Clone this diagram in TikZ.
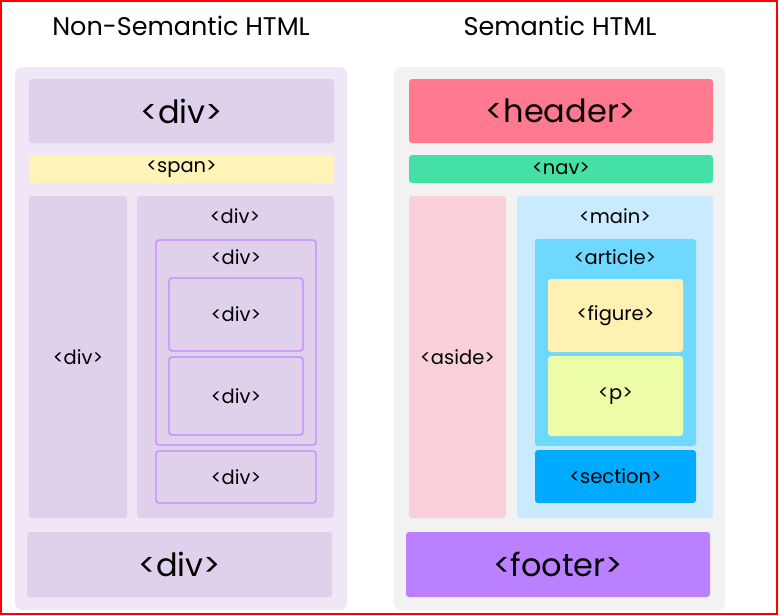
\documentclass[tikz,border=0pt]{standalone}
\usepackage{fontspec}
\setmainfont{Poppins}
\definecolor{leftpanel}{HTML}{EFE7F6}
\definecolor{divfill}{HTML}{DFD0EC}
\definecolor{spanfill}{HTML}{FFF3B8}
\definecolor{rightpanel}{HTML}{F2F2F2}
\definecolor{headerfill}{HTML}{FF7A8E}
\definecolor{navfill}{HTML}{45E0A6}
\definecolor{asidefill}{HTML}{FAD0D8}
\definecolor{mainfill}{HTML}{C9EBFD}
\definecolor{articlefill}{HTML}{6FD8FF}
\definecolor{figurefill}{HTML}{FFF0B3}
\definecolor{pfill}{HTML}{EDFCA6}
\definecolor{sectionfill}{HTML}{00AAFF}
\definecolor{footerfill}{HTML}{BB80FF}
\definecolor{divline}{HTML}{BF8BFF}
\definecolor{frame}{HTML}{FF0000}
\begin{document}
\begin{tikzpicture}[x=1pt,y=-1pt,
  tag/.style={rectangle, rounded corners=3pt, inner sep=0pt, outer sep=0pt, text=black},
  panel/.style={tag, rounded corners=7pt},
  outlined/.style={draw=divline, line width=1.3pt},
  bigtext/.style={font=\fontsize{32}{34}\selectfont},
  smalltext/.style={font=\fontsize{19.5}{21}\selectfont},
  title/.style={font=\fontsize{25.5}{28}\selectfont, inner sep=0pt}]
\useasboundingbox (0,0) rectangle (780,616);
\fill[white] (0,0) rectangle (780,616);
% name, x1, y1, x2, y2, style, text
\newcommand\tagbox[7]{%
  \pgfmathsetmacro\tbw{#4-#2}%
  \pgfmathsetmacro\tbh{#5-#3}%
  \pgfmathsetmacro\tbx{(#2+#4)/2}%
  \pgfmathsetmacro\tby{(#3+#5)/2}%
  \node[tag, #6, minimum width=\tbw pt, minimum height=\tbh pt] (#1) at (\tbx,\tby) {#7};}

% titles
\node[title] (ltitle) at (181,26) {Non-Semantic HTML};
\node[title] (rtitle) at (560,26) {Semantic HTML};

% ---- non-semantic side ----
\tagbox{lpanel}{15}{67}{347}{610}{panel, fill=leftpanel}{}
\tagbox{ldivtop}{29}{79}{334}{143}{fill=divfill, bigtext}{<div>}
\tagbox{lspan}{29}{155}{334}{183}{fill=spanfill, smalltext}{<span>}
\tagbox{lside}{29}{196}{127}{518}{fill=divfill, smalltext}{<div>}
\tagbox{lwrap}{137}{196}{334}{518}{fill=divfill}{}
\node[smalltext] (lwraplabel) at (235,216) {<div>};
\tagbox{lnest}{156}{240}{316}{445}{outlined}{}
\node[smalltext] (lnestlabel) at (236,257) {<div>};
\tagbox{linnerA}{169}{278}{303}{351}{outlined, smalltext}{<div>}
\tagbox{linnerB}{169}{357}{303}{435}{outlined, smalltext}{<div>}
\tagbox{lbottom}{156}{451}{316}{503}{outlined, smalltext}{<div>}
\tagbox{ldivfoot}{27}{532}{332}{597}{fill=divfill, bigtext}{<div>}

% ---- semantic side ----
\tagbox{rpanel}{394}{67}{725}{610}{panel, fill=rightpanel}{}
\tagbox{header}{409}{79}{713}{143}{fill=headerfill, bigtext}{<header>}
\tagbox{nav}{409}{155}{713}{183}{fill=navfill, smalltext}{<nav>}
\tagbox{aside}{409}{196}{506}{518}{fill=asidefill, smalltext}{<aside>}
\tagbox{main}{517}{196}{713}{518}{fill=mainfill}{}
\node[smalltext] (mainlabel) at (615,216) {<main>};
\tagbox{article}{535}{239}{696}{446}{fill=articlefill}{}
\node[smalltext] (articlelabel) at (615,257) {<article>};
\tagbox{figure}{548}{279}{683}{352}{fill=figurefill, smalltext}{<figure>}
\tagbox{para}{548}{356}{683}{436}{fill=pfill, smalltext}{<p>}
\tagbox{section}{535}{450}{696}{503}{fill=sectionfill, smalltext}{<section>}
\tagbox{footer}{406}{532}{710}{597}{fill=footerfill, bigtext}{<footer>}

% outer frame
\draw[frame, line width=2.2pt] (1.1,1.1) rectangle (777,614);
\end{tikzpicture}
\end{document}
